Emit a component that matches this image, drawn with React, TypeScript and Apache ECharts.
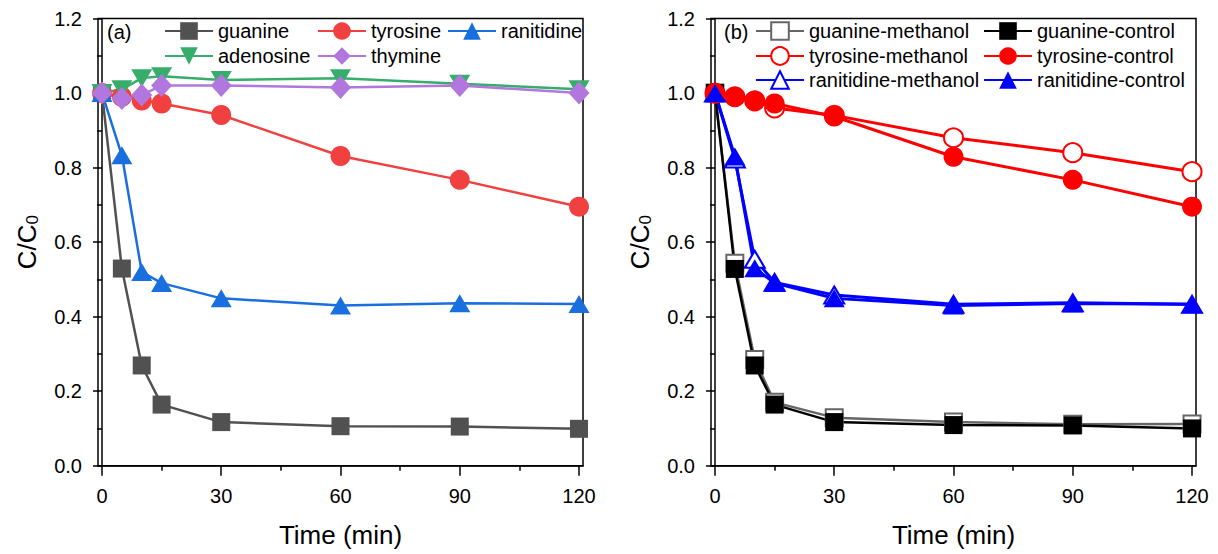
import React, { useEffect, useRef } from "react";
import * as echarts from "echarts";

const TIMES = [0, 5, 10, 15, 30, 60, 90, 120];
const X_MAJOR = [0, 30, 60, 90, 120];
const X_MINOR = [15, 45, 75, 105];

// panel (a)
const GUANINE = [1.0, 0.529, 0.269, 0.164, 0.117, 0.106, 0.105, 0.099];
const TYROSINE = [1.0, 0.99, 0.98, 0.972, 0.941, 0.831, 0.767, 0.695];
const RANITIDINE = [1.0, 0.833, 0.52, 0.49, 0.449, 0.43, 0.436, 0.434];
const ADENOSINE = [1.0, 1.01, 1.04, 1.045, 1.035, 1.04, 1.025, 1.01];
const THYMINE = [1.0, 0.985, 0.995, 1.02, 1.02, 1.015, 1.02, 1.0];

// panel (b)
const GUANINE_METHANOL = [1.0, 0.543, 0.285, 0.17, 0.129, 0.117, 0.111, 0.112];
const GUANINE_CONTROL = [1.0, 0.528, 0.269, 0.164, 0.117, 0.109, 0.108, 0.1];
const TYROSINE_METHANOL = [1.0, 0.99, 0.979, 0.96, 0.94, 0.88, 0.84, 0.789];
const TYROSINE_CONTROL = [1.0, 0.99, 0.979, 0.972, 0.937, 0.829, 0.767, 0.695];
const RANITIDINE_METHANOL = [1.0, 0.823, 0.554, 0.492, 0.458, 0.433, 0.437, 0.433];
const RANITIDINE_CONTROL = [1.0, 0.83, 0.53, 0.49, 0.449, 0.43, 0.435, 0.433];

const FONT = "Liberation Sans, Arial, sans-serif";

const pairs = (vals: number[]) => TIMES.map((t, i) => [t, vals[i]]);

export default function App() {
  const ref = useRef<HTMLDivElement>(null);
  useEffect(() => {
    if (!ref.current) return;
    const chart = echarts.init(ref.current, undefined, { renderer: "svg" });

    const grids = [
      { left: 98, top: 18.5, width: 485, height: 447.2, show: true, borderColor: "#000", borderWidth: 1.5, backgroundColor: "transparent" },
      { left: 711, top: 18.5, width: 485, height: 447.2, show: true, borderColor: "#000", borderWidth: 1.5, backgroundColor: "transparent" },
    ];

    const mkX = (gi: number) => [
      {
        type: "value",
        gridIndex: gi,
        position: "bottom",
        min: -1,
        max: 121,
        name: "Time (min)",
        nameLocation: "middle",
        nameGap: 56,
        nameTextStyle: { fontSize: 26, color: "#000", fontFamily: FONT },
        axisLine: { show: true, lineStyle: { color: "#000", width: 1.5 } },
        axisTick: { show: true, customValues: X_MAJOR, length: 10, lineStyle: { color: "#000", width: 1.5 } },
        axisLabel: { show: true, customValues: X_MAJOR, margin: 20, fontSize: 20, color: "#000", fontFamily: FONT },
        splitLine: { show: false },
      },
      {
        type: "value",
        gridIndex: gi,
        position: "bottom",
        min: -1,
        max: 121,
        axisLine: { show: false },
        axisTick: { show: true, customValues: X_MINOR, length: 5, lineStyle: { color: "#000", width: 1.5 } },
        axisLabel: { show: false },
        splitLine: { show: false },
      },
    ];

    const mkY = (gi: number) => ({
      type: "value",
      gridIndex: gi,
      min: 0,
      max: 1.2,
      interval: 0.2,
      name: "{a|C/C}{b|0}",
      nameLocation: "middle",
      nameGap: 57,
      nameTextStyle: {
        color: "#000",
        fontFamily: FONT,
        rich: {
          a: { fontSize: 26, color: "#000", fontFamily: FONT },
          b: { fontSize: 17, color: "#000", fontFamily: FONT, padding: [12, 0, 0, 0] },
        },
      },
      axisLine: { show: true, lineStyle: { color: "#000", width: 1.5 } },
      axisTick: { show: true, length: 9, lineStyle: { color: "#000", width: 1.5 } },
      minorTick: { show: true, splitNumber: 2, length: 5, lineStyle: { color: "#000", width: 1.5 } },
      axisLabel: { margin: 16, fontSize: 20, color: "#000", fontFamily: FONT, formatter: (v: number) => v.toFixed(1) },
      splitLine: { show: false },
      minorSplitLine: { show: false },
    });

    const line = (
      name: string,
      vals: number[],
      xi: number,
      yi: number,
      color: string,
      symbol: string,
      size: number | number[],
      width: number,
      extra: any = {}
    ) => ({
      type: "line",
      name,
      data: pairs(vals),
      xAxisIndex: xi,
      yAxisIndex: yi,
      symbol,
      symbolSize: size,
      showAllSymbol: true,
      lineStyle: { color, width },
      itemStyle: { color },
      ...extra,
    });

    const series = [
      line("guanine", GUANINE, 0, 0, "#515151", "rect", 18, 2.5),
      line("tyrosine", TYROSINE, 0, 0, "#F14040", "circle", 20, 2.5),
      line("ranitidine", RANITIDINE, 0, 0, "#1A6FDF", "triangle", [21, 18], 2.5),
      line("adenosine", ADENOSINE, 0, 0, "#37AD6B", "triangle", [21, 18], 2.5, { symbolRotate: 180 }),
      line("thymine", THYMINE, 0, 0, "#B177DE", "diamond", [21, 23], 2.5),

      line("guanine-methanol", GUANINE_METHANOL, 2, 1, "#666666", "emptyRect", 17, 2.5, { itemStyle: { color: "#666666", borderWidth: 1.5 } }),
      line("tyrosine-methanol", TYROSINE_METHANOL, 2, 1, "#FF0000", "emptyCircle", 19, 3, { itemStyle: { color: "#FF0000", borderWidth: 1.5 } }),
      line("ranitidine-methanol", RANITIDINE_METHANOL, 2, 1, "#0000FF", "emptyTriangle", [20, 17], 3, { itemStyle: { color: "#0000FF", borderWidth: 1.5 } }),
      line("guanine-control", GUANINE_CONTROL, 2, 1, "#000000", "rect", 18, 2.5),
      line("tyrosine-control", TYROSINE_CONTROL, 2, 1, "#FF0000", "circle", 20, 3),
      line("ranitidine-control", RANITIDINE_CONTROL, 2, 1, "#0000FF", "triangle", [21, 18], 3),
    ];

    const leg = (name: string, left: number, centerY: number) => ({
      data: [name],
      left,
      top: centerY - 11,
      padding: 0,
      itemWidth: 48,
      itemHeight: 22,
      selectedMode: false,
      textStyle: { fontSize: 20, color: "#000", fontFamily: FONT },
    });

    const legends = [
      leg("guanine", 164, 32),
      leg("tyrosine", 317, 32),
      leg("ranitidine", 447, 32),
      leg("adenosine", 164, 57),
      leg("thymine", 317, 57),
      leg("guanine-methanol", 755, 32),
      leg("guanine-control", 983, 32),
      leg("tyrosine-methanol", 755, 57),
      leg("tyrosine-control", 983, 57),
      leg("ranitidine-methanol", 755, 81),
      leg("ranitidine-control", 983, 81),
    ];

    chart.setOption({
      animation: false,
      backgroundColor: "#fff",
      grid: grids,
      xAxis: [...mkX(0), ...mkX(1)],
      yAxis: [mkY(0), mkY(1)],
      legend: legends,
      series,
      graphic: [
        { type: "text", left: 107, top: 22, style: { text: "(a)", fontSize: 20, fill: "#000", fontFamily: FONT } },
        { type: "text", left: 724, top: 22, style: { text: "(b)", fontSize: 20, fill: "#000", fontFamily: FONT } },
      ],
    });
    return () => chart.dispose();
  }, []);
  return <div ref={ref} style={{ position: "fixed", left: 0, top: 0, width: 1218, height: 554 }} />;
}
